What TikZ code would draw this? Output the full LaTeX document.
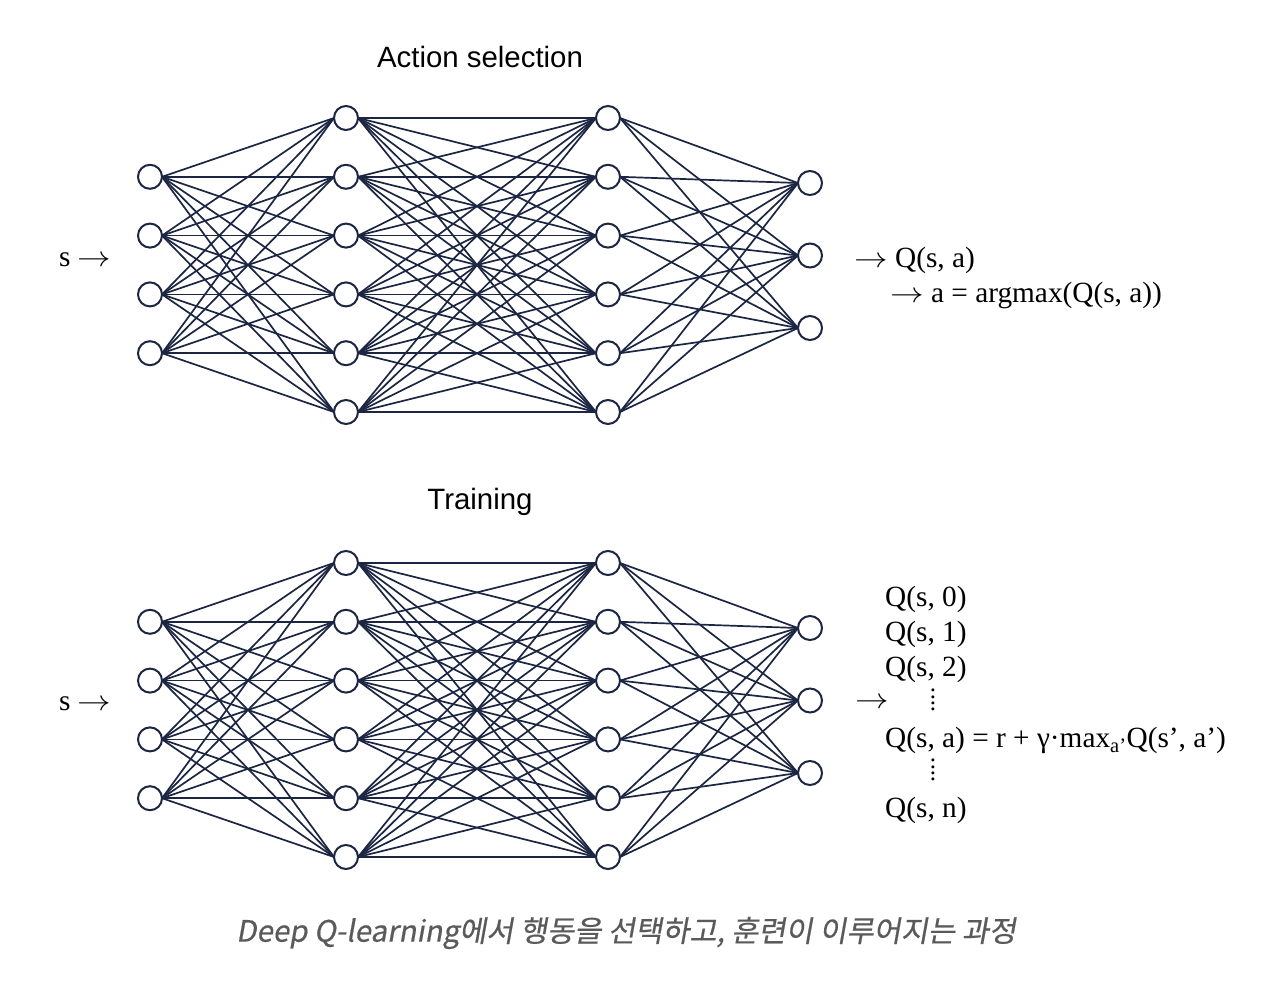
\documentclass[tikz,border=0pt]{standalone}
\usepackage{fontspec}
\setmainfont{Liberation Serif}
\newfontfamily\titlefont{Liberation Sans}
\newfontfamily\kfont[FakeSlant=0.18,FakeBold=0.5]{Noto Sans CJK KR}
\definecolor{netcol}{RGB}{28,38,66}
\definecolor{capcol}{RGB}{90,90,90}
\newcommand{\rarr}{\scalebox{1.35}[1.15]{$\rightarrow$}}
\newcommand{\vdotsfour}{\rotatebox{90}{\fontsize{25}{25}\selectfont....}}
\tikzset{
  neuron/.style={circle,draw=netcol,line width=2pt,fill=white,minimum size=24pt,inner sep=0pt,outer sep=0pt},
  conn/.style={draw=netcol,line width=1.7pt},
  title/.style={font=\titlefont\fontsize{29.4}{32}\selectfont,inner sep=0pt},
  lab/.style={font=\fontsize{29.3}{34}\selectfont,inner sep=0pt,anchor=west},
  dotsstyle/.style={inner sep=0pt},
  caption/.style={font=\kfont\fontsize{29.5}{32}\selectfont,text=capcol,inner sep=0pt}
}
\begin{document}
\begin{tikzpicture}[x=1pt,y=-1pt]
\useasboundingbox (0,0) rectangle (1288,996);
\foreach \n/\oy in {A/0,B/445} {
  \foreach \i in {1,...,4} \node[neuron] (\n1-\i) at (150,{\oy+118+58.8*\i}) {};
  \foreach \i in {1,...,6} \node[neuron] (\n2-\i) at (346,{\oy+118+58.8*(\i-1)}) {};
  \foreach \i in {1,...,6} \node[neuron] (\n3-\i) at (608,{\oy+118+58.8*(\i-1)}) {};
  \foreach \i in {1,...,3} \node[neuron] (\n4-\i) at (810,{\oy+183+72.5*(\i-1)}) {};
  \foreach \i in {1,...,4} \foreach \j in {1,...,6} \draw[conn] (\n1-\i.east) -- (\n2-\j.west);
  \foreach \i in {1,...,6} \foreach \j in {1,...,6} \draw[conn] (\n2-\i.east) -- (\n3-\j.west);
  \foreach \i in {1,...,6} \foreach \j in {1,...,3} \draw[conn] (\n3-\i.east) -- (\n4-\j.west);
}
\node[title] (t1) at (480,57) {Action selection};
\node[title] (t2) at (480,502) {Training};
% top labels
\node[lab] (sa) at (59,260) {s \rarr};
\node[lab] (qa) at (854,260) {\rarr\ Q(s, a)};
\node[lab] (am) at (890,295) {\rarr\ a = argmax(Q(s, a))};
% bottom labels
\node[lab] (sb) at (59,704) {s \rarr};
\node[lab] (arr) at (855,703) {\rarr};
\node[lab] (q0) at (885,599) {Q(s, 0)};
\node[lab] (q1) at (885,634) {Q(s, 1)};
\node[lab] (q2) at (885,669) {Q(s, 2)};
\node[dotsstyle] (d1) at (933,700) {\vdotsfour};
\node[lab] (qa2) at (885,740) {Q(s, a) = r + γ·max\textsubscript{a’}Q(s’, a’)};
\node[dotsstyle] (d2) at (933,770) {\vdotsfour};
\node[lab] (qn) at (885,810) {Q(s, n)};
\node[caption] (cap) at (626,933) {Deep Q-learning에서 행동을 선택하고, 훈련이 이루어지는 과정};
\end{tikzpicture}
\end{document}
